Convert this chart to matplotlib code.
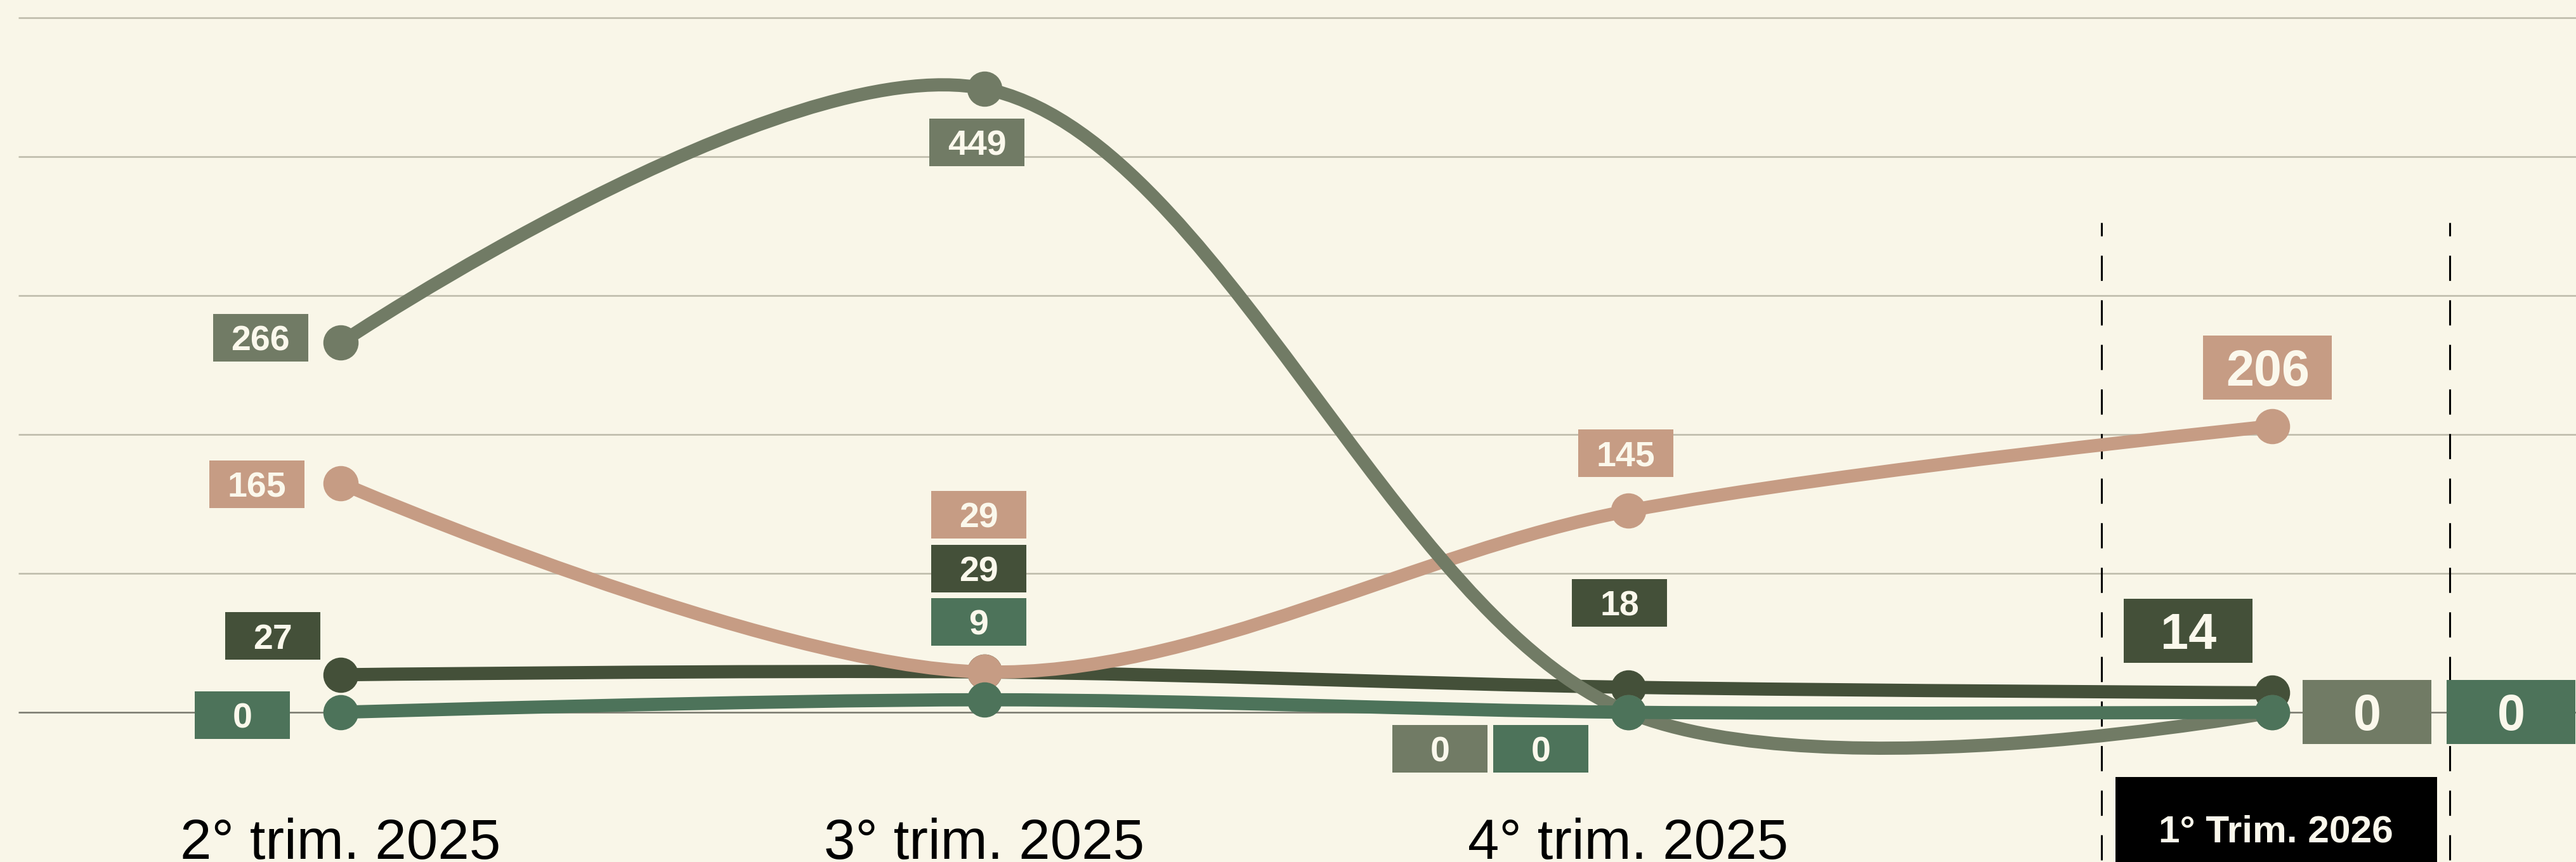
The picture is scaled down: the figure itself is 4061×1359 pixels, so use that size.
import numpy as np
import matplotlib
matplotlib.use("Agg")
import matplotlib.pyplot as plt
import matplotlib.transforms as mtransforms
from matplotlib.path import Path
from matplotlib.patches import PathPatch, Rectangle

plt.rcParams['font.family'] = ['Liberation Sans', 'DejaVu Sans']

# data
quarters = ['2° trim. 2025', '3° trim. 2025', '4° trim. 2025', '1° Trim. 2026']
series_a = [266, 449, 0, 0]
series_b = [165, 29, 145, 206]
series_c = [27, 29, 18, 14]
series_d = [0, 9, 0, 0]

BG = '#f9f6e8'
TXT = '#fbf8ec'
colors = {'a': '#717b65', 'b': '#c69c84', 'c': '#445039', 'd': '#4d735a'}
values = {'a': series_a, 'b': series_b, 'c': series_c, 'd': series_d}
zorders = {'c': 3, 'b': 4, 'a': 5, 'd': 6}

# label box offsets from the marker, in pixels (dx, dy), per quarter
offsets = {
    'a': [(-126, 8), (-12, -85), (-297, -58), (150, 0)],
    'b': [(-132, -2), (-9, 248), (-4, 91), (-7, 92)],
    'c': [(-107, 61), (-9, 163), (-14, 133), (-132, 98)],
    'd': [(-155, -5), (-9, 123), (-138, -58), (377, 0)],
}

fig = plt.figure(figsize=(40.61, 13.59), dpi=100, facecolor=BG)
ax = fig.add_axes([0, 0, 1, 1])
ax.set_facecolor(BG)
ax.set_xlim(-0.529, 3.472)
ax.set_ylim(-107.8, 512.8)
ax.axis('off')

x = np.arange(len(quarters))


def spline_path(xs, ys, alpha=0.5):
    # centripetal catmull-rom (as d3.curveCatmullRom), worked out in pixel space
    p = ax.transData.transform(np.column_stack([xs, ys]).astype(float))
    n = len(p)
    verts = [p[0]]
    codes = [Path.MOVETO]
    for i in range(n - 1):
        p1, p2 = p[i], p[i + 1]
        l12 = np.hypot(*(p2 - p1))
        l12_a, l12_2a = l12 ** alpha, l12 ** (2 * alpha)
        c1, c2 = p1.copy(), p2.copy()
        if i > 0:
            p0 = p[i - 1]
            l01 = np.hypot(*(p1 - p0))
            l01_a, l01_2a = l01 ** alpha, l01 ** (2 * alpha)
            a = 2 * l01_2a + 3 * l01_a * l12_a + l12_2a
            nn = 3 * l01_a * (l01_a + l12_a)
            c1 = (p1 * a - p0 * l12_2a + p2 * l01_2a) / nn
        if i < n - 2:
            p3 = p[i + 2]
            l23 = np.hypot(*(p3 - p2))
            l23_a, l23_2a = l23 ** alpha, l23 ** (2 * alpha)
            b = 2 * l23_2a + 3 * l23_a * l12_a + l12_2a
            m = 3 * l23_a * (l23_a + l12_a)
            c2 = (p2 * b + p1 * l23_2a - p3 * l12_2a) / m
        verts += [c1, c2, p2]
        codes += [Path.CURVE4] * 3
    verts = ax.transData.inverted().transform(np.array(verts))
    return Path(verts, codes)


def at(xv, yv):
    # pixel-offset transform anchored at a data point
    return mtransforms.ScaledTranslation(xv, yv, ax.transData)


# grid
ax.hlines([100, 200, 300, 400, 500], -0.5, 3.472, color='#bcbaa9', lw=1.8, zorder=1)
ax.hlines([0], -0.5, 3.472, color='#77776c', lw=1.8, zorder=1)

# highlighted last quarter
for xv in (2.735, 3.276):
    ax.vlines(xv, -107.8, 352.5, color='black', lw=2.2,
              linestyles=(22, (13, 10)), zorder=2)

for key in ['a', 'b', 'c', 'd']:
    col = colors[key]
    ax.add_patch(PathPatch(spline_path(x, values[key]), fill=False, edgecolor=col,
                           lw=15, capstyle='round', joinstyle='round',
                           zorder=zorders[key]))
    ax.plot(x, values[key], 'o', ms=39, color=col, mec=col, zorder=zorders[key])

    for i, v in enumerate(values[key]):
        dx, dy = offsets[key][i]
        big = i == len(quarters) - 1
        w, h = (203, 101) if big else (150, 75)
        fs = 57 if big else 40
        tr = at(x[i], v)
        ax.add_patch(Rectangle((dx - w / 2, dy - h / 2), w, h, transform=tr,
                               facecolor=col, edgecolor='none', zorder=10))
        ax.text(dx, dy - fs * 100 / 72 * 0.716 / 2, str(v), transform=tr,
                ha='center', va='baseline', fontsize=fs, fontweight='bold',
                color=TXT, zorder=11)

# category labels
for i, q in enumerate(quarters[:-1]):
    ax.text(0, -231, q, transform=at(x[i], 0), ha='center', va='baseline',
            fontsize=64, color='black')

last = len(quarters) - 1
ax.add_patch(Rectangle((-247, -400), 507, 298, transform=at(x[last], 0),
                       facecolor='black', edgecolor='none', zorder=10))
ax.text(6, -205, quarters[last], transform=at(x[last], 0), ha='center',
        va='baseline', fontsize=43.5, fontweight='bold', color=TXT, zorder=11)

fig.savefig('out.png', dpi=100, facecolor=BG)
